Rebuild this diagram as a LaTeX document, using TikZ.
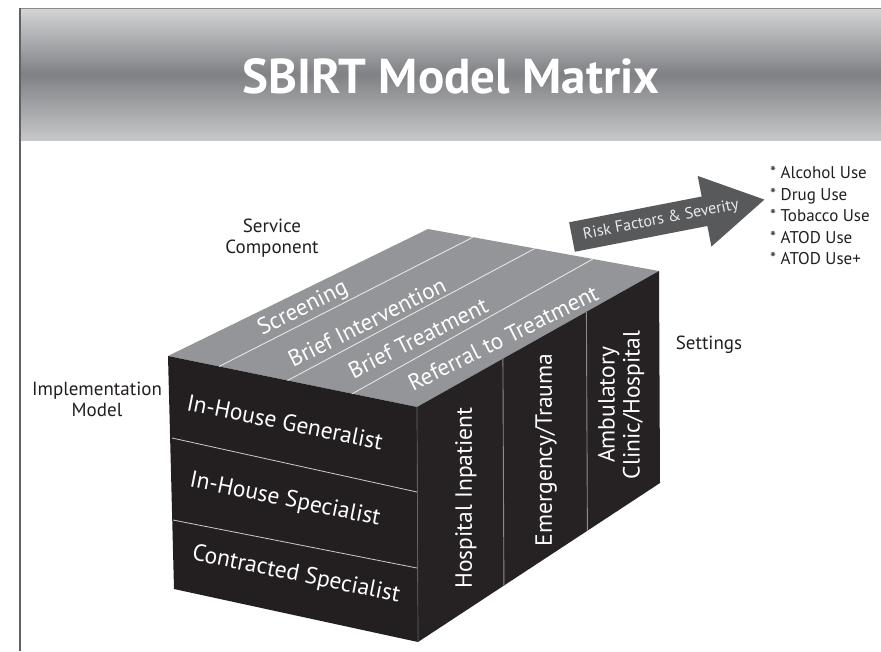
\documentclass[tikz,border=0pt]{standalone}
\usepackage{fontspec}
\setmainfont{PT Sans}
\usetikzlibrary{calc}

\definecolor{cubeblack}{HTML}{231F20}
\definecolor{cubeside}{HTML}{262223}
\definecolor{cubetop}{HTML}{939598}
\definecolor{arrowgray}{HTML}{58595B}
\definecolor{inktext}{HTML}{231F20}
\definecolor{headtop}{HTML}{D4D5D7}
\definecolor{headmid}{HTML}{808184}
\definecolor{headbot}{HTML}{C6C7C9}
\definecolor{framegray}{HTML}{8A8A8A}

\tikzset{
  titletext/.style={text=white, inner sep=0pt,
                    font=\bfseries\fontsize{49}{49}\selectfont},
  axislabel/.style={text=inktext, align=center, inner sep=0pt,
                    font=\fontsize{19}{21}\selectfont},
  toptext/.style={text=white, inner sep=0pt, rotate=26.5,
                  font=\fontsize{23}{23}\selectfont},
  fronttext/.style={text=white, inner sep=0pt, rotate=-11.5,
                    font=\fontsize{23.5}{23.5}\selectfont},
  sidetext/.style={text=white, inner sep=0pt, rotate=90, align=center,
                   font=\fontsize{23.5}{25}\selectfont},
  arrowtext/.style={text=white!92!black, inner sep=0pt, rotate=11,
                    font=\fontsize{16}{16}\selectfont},
  listtext/.style={text=inktext, inner sep=0pt, anchor=base west,
                   font=\fontsize{17}{17}\selectfont},
  topline/.style={draw=white!90!black, line width=0.9pt},
  frontline/.style={draw=white!80!black, line width=0.8pt},
  sideline/.style={draw=white!55!black, line width=0.9pt},
}

\begin{document}
\begin{tikzpicture}[x=1pt,y=-1pt]
  \useasboundingbox (0,0) rectangle (881,651);
  \fill[white] (0,0) rectangle (881,651);

  % banner with vertical gradient
  \shade[top color=headtop, bottom color=headbot, middle color=headmid]
    (20,8) rectangle (881,140);
  \draw[framegray, line width=0.8pt] (20,8) -- (881,8);
  \draw[framegray!70!black, line width=1.6pt] (20,8) -- (20,651);

  \node[titletext] (title) at (451,76) {SBIRT Model Matrix};

  % cube corners
  \coordinate (A) at (168,356);
  \coordinate (B) at (417,407);
  \coordinate (C) at (428,229);
  \coordinate (D) at (659,271);
  \coordinate (E) at (418,642);
  \coordinate (F) at (174,589);
  \coordinate (G) at (660,483);

  % faces
  \fill[cubetop] (A) -- (C) -- (D) -- (B) -- cycle;
  \fill[cubeblack] (A) -- (B) -- (E) -- (F) -- cycle;
  \fill[cubeside] (B) -- (D) -- (G) -- (E) -- cycle;
  \draw[white!40!black, line width=0.7pt] (B) -- (E);

  % top face: service components
  \draw[topline] ($(A)!0.205!(B)$) -- ($(C)!0.195!(D)$);
  \draw[topline] ($(A)!0.480!(B)$) -- ($(C)!0.463!(D)$);
  \draw[topline] ($(A)!0.740!(B)$) -- ($(C)!0.714!(D)$);

  % front face: implementation models
  \draw[frontline] (172,438) -- (417,492);
  \draw[frontline] (173,520) -- (417,568);

  % side face: settings
  \draw[sideline] ($(B)!0.355!(D)$) -- ($(E)!0.355!(G)$);
  \draw[sideline] ($(B)!0.700!(D)$) -- ($(E)!0.700!(G)$);

  % labels on the top face
  \node[toptext] (screening) at (303,309) {Screening};
  \node[toptext] (briefint)  at (367,322) {Brief Intervention};
  \node[toptext] (brieftrt)  at (418,338) {Brief Treatment};
  \node[toptext] (referral)  at (503,338) {Referral to Treatment};

  % labels on the front face
  \node[fronttext] (generalist) at (285,422) {In-House Generalist};
  \node[fronttext] (specialist) at (285,500) {In-House Specialist};
  \node[fronttext] (contracted) at (296,575) {Contracted Specialist};

  % labels on the side face
  \node[sidetext] (inpatient)  at (466,498) {Hospital Inpatient};
  \node[sidetext] (emergency)  at (546,450) {Emergency/Trauma};
  \node[sidetext] (ambulatory) at (621,405) {Ambulatory\\Clinic/Hospital};

  % axis labels
  \node[axislabel] (service)  at (272,238) {Service\\Component};
  \node[axislabel] (implmodel) at (97,399) {Implementation\\Model};
  \node[axislabel] (settings) at (709,345) {Settings};

  % risk arrow
  \begin{scope}[shift={(572,237)}, rotate=11]
    \fill[arrowgray] (0,-15) -- (135,-15) -- (135,-36) -- (196,0)
      -- (135,36) -- (135,15) -- (0,15) -- cycle;
    \coordinate (arrowtip) at (196,0);
  \end{scope}
  \node[arrowtext] (risk) at (661,220) {Risk Factors \& Severity};

  % risk list
  \node[listtext] (risk1) at (770,178.5) {* Alcohol Use};
  \node[listtext] (risk2) at (770,200)   {* Drug Use};
  \node[listtext] (risk3) at (770,221.5) {* Tobacco Use};
  \node[listtext] (risk4) at (770,243)   {* ATOD Use};
  \node[listtext] (risk5) at (770,264.5) {* ATOD Use+};
\end{tikzpicture}
\end{document}
